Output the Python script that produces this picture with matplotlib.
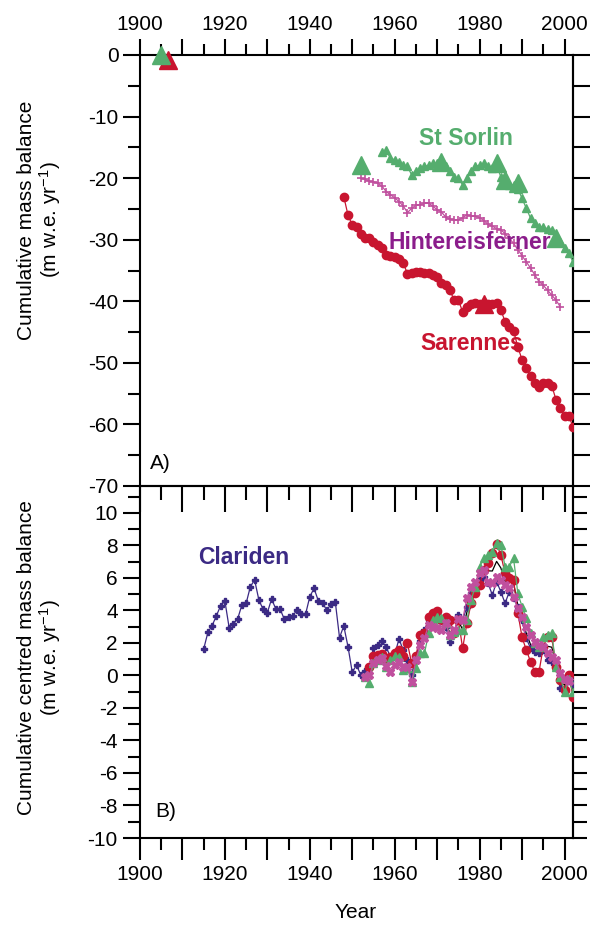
import numpy as np
import matplotlib
matplotlib.use("Agg")
import matplotlib.pyplot as plt
from matplotlib.ticker import MultipleLocator, FuncFormatter

plt.rcParams['font.family'] = ['Liberation Sans', 'DejaVu Sans']
plt.rcParams['mathtext.fontset'] = 'custom'
plt.rcParams['mathtext.rm'] = 'Liberation Sans'
plt.rcParams['mathtext.it'] = 'Liberation Sans:italic'
plt.rcParams['mathtext.bf'] = 'Liberation Sans:bold'
plt.rcParams['axes.unicode_minus'] = False

# ---------------- data: panel A (cumulative mass balance) ----------------
sorlin_years = list(range(1957, 2003))
sorlin_vals = [-15.7, -15.5, -16.8, -17.0, -17.3, -17.9, -18.1, -19.5, -18.9, -18.4,
               -18.1, -17.9, -17.6, -17.6, -17.4, -18.1, -18.9, -19.8, -20.0, -21.1,
               -20.0, -18.9, -18.1, -17.9, -17.6, -18.1, -18.4, -17.9, -19.8, -20.9,
               -21.1, -21.1, -21.7, -23.3, -24.9, -26.5, -27.3, -27.9, -28.0, -28.2,
               -28.4, -29.2, -30.3, -31.4, -32.2, -33.6]
sorlin_geo_years = [1905, 1952, 1971, 1984, 1986, 1989, 1998]
sorlin_geo_vals = [0.0, -17.9, -17.3, -17.6, -20.3, -20.8, -29.7]

hef_years = list(range(1952, 2000))
hef_vals = [-20.0, -20.2, -20.5, -20.6, -20.8, -21.3, -22.2, -22.7, -23.2, -23.8,
            -24.5, -25.6, -24.9, -24.4, -24.3, -24.1, -24.0, -24.6, -25.1, -25.5,
            -26.3, -26.7, -26.8, -26.8, -26.4, -26.0, -26.1, -26.2, -26.4, -26.9,
            -27.5, -27.8, -28.2, -28.4, -29.0, -29.8, -30.6, -31.6, -32.6, -33.6,
            -34.6, -35.7, -36.8, -37.4, -38.2, -39.0, -39.8, -40.9]

sar_years = list(range(1948, 2003))
sar_vals = [-23.0, -26.0, -27.6, -27.9, -29.0, -29.8, -29.8, -30.3, -30.9, -31.4,
            -32.5, -32.7, -32.8, -33.2, -33.8, -35.5, -35.4, -35.3, -35.2, -35.4,
            -35.4, -35.8, -36.1, -37.1, -37.4, -38.2, -39.8, -39.8, -41.7, -40.9,
            -40.4, -40.3, -40.4, -40.6, -40.4, -40.4, -40.3, -41.4, -43.3, -44.1,
            -44.8, -47.4, -49.5, -50.9, -52.2, -53.3, -53.9, -53.3, -53.3, -53.7,
            -56.0, -57.4, -58.7, -58.6, -60.4]
sar_geo_years = [1906.5, 1981]
sar_geo_vals = [-0.8, -40.4]

# ---------------- data: panel B (cumulative centred mass balance) ----------------
clar_years = list(range(1915, 2003))
clar_vals = [1.63, 2.66, 3.07, 3.68, 4.30, 4.58, 2.94, 3.17, 3.48, 4.34,
             4.44, 5.47, 5.88, 4.65, 4.07, 3.87, 4.71, 4.09, 4.09, 3.46,
             3.58, 3.68, 4.03, 3.77, 3.77, 4.85, 5.36, 4.60, 4.44, 4.03,
             4.38, 4.54, 2.33, 3.05, 1.77, 0.19, 0.65, 0.03, 0.30, 0.54,
             1.67, 1.88, 2.14, 1.73, 1.16, 1.26, 2.25, 1.57, 0.95, 0.03,
             1.16, 2.14, 2.80, 3.42, 3.72, 3.52, 3.42, 3.00, 2.08, 2.60,
             3.72, 3.42, 4.20, 5.06, 5.57, 5.88, 6.08, 5.67, 4.95, 5.77,
             5.16, 4.44, 5.16, 4.75, 4.24, 3.42, 2.29, 1.67, 1.47, 1.36,
             1.57, 0.95, 0.85, 0.54, -0.79, -0.24, -0.34, -0.50]

sarB_years = list(range(1954, 2003))
sarB_vals = [0.5, 1.2, 1.26, 1.3, 1.0, 1.16, 1.4, 1.57, 1.2, 1.98,
             0.75, 1.2, 2.49, 2.6, 3.62, 3.83, 3.99, 3.42, 3.62, 3.42,
             2.6, 3.42, 1.67, 3.2, 4.44, 5.06, 5.57, 6.49, 6.9, 7.52,
             8.09, 7.42, 6.29, 5.98, 5.88, 3.87, 2.35, 1.57, 0.85, 0.23,
             0.23, 1.77, 2.39, 2.35, 0.54, -0.28, -0.9, 0.03, -1.3]

sorB_years = list(range(1953, 2003))
sorB_vals = [-0.1, -0.44, 0.75, 0.95, 1.16, 0.54, 0.95, 1.2, 1.16, 0.34,
             0.44, -0.38, 0.44, 1.36, 1.36, 2.6, 3.42, 3.62, 3.52, 3.21,
             2.49, 2.7, 2.8, 2.8, 3.42, 4.65, 5.47, 6.7, 7.21, 7.42,
             7.57, 8.14, 8.03, 6.7, 6.7, 7.21, 5.06, 4.24, 3.52, 2.6,
             1.98, 1.77, 2.39, 2.49, 2.6, 0.54, -0.07, -1.0, -0.24, -1.0]

hefB_years = list(range(1953, 2002))
hefB_vals = [-0.1, 0.0, 0.75, 0.95, 1.06, 0.6, 0.23, 0.65, 0.85, 0.54,
             0.54, -0.38, 0.95, 1.88, 2.29, 3.11, 3.0, 2.9, 2.8, 3.21,
             2.49, 2.8, 3.46, 3.42, 4.75, 5.47, 5.77, 6.29, 6.49, 5.77,
             5.67, 6.08, 5.88, 5.57, 5.36, 4.85, 4.13, 3.62, 3.0, 2.49,
             2.08, 1.88, 1.77, 1.36, 1.16, 0.95, 0.13, -0.24, -0.34]

meanB_years = list(range(1953, 2003))
meanB_vals = [0.03, 0.15, 1.09, 1.26, 1.42, 0.97, 0.88, 1.13, 1.46, 0.91,
              0.98, 0.00, 0.94, 1.97, 2.26, 3.19, 3.49, 3.51, 3.29, 3.26,
              2.62, 2.68, 3.35, 2.83, 3.89, 4.91, 5.47, 6.11, 6.57, 6.44,
              6.43, 7.02, 6.62, 5.75, 5.80, 5.67, 4.33, 3.41, 2.60, 1.90,
              1.44, 1.31, 1.88, 1.80, 1.74, 0.64, -0.25, -0.60, -0.22, -0.93]

# ---------------- styling ----------------
GREEN = '#55ad6e'
RED = '#c8152f'
PURPLE_TXT = '#8b1d8b'
MAGENTA = '#c0509e'
BLUE = '#3b2a84'
FS = 15
LW = 1.5

W, H = 592, 926
fig = plt.figure(figsize=(W / 100, H / 100), dpi=100)

x0, x1 = 140 / W, 573 / W
axA = fig.add_axes([x0, 1 - 486 / H, x1 - x0, (486 - 55) / H])
axB = fig.add_axes([x0, 1 - 838 / H, x1 - x0, (838 - 486) / H])

year_fmt = FuncFormatter(lambda v, p: f"{int(round(v))}" if int(round(v)) % 20 == 0 else "")

for ax in (axA, axB):
    ax.set_xlim(1900, 2002)
    for s in ax.spines.values():
        s.set_linewidth(LW)
    ax.xaxis.set_major_locator(MultipleLocator(10))
    ax.xaxis.set_minor_locator(MultipleLocator(5))
    ax.xaxis.set_major_formatter(year_fmt)
    ax.tick_params(labelsize=FS, width=LW)
    ax.tick_params(which='minor', width=LW)

# ---------------- Panel A ----------------
axA.set_ylim(-70, 0)
axA.yaxis.set_major_locator(MultipleLocator(10))
axA.yaxis.set_minor_locator(MultipleLocator(5))
axA.tick_params(axis='x', which='both', top=True, bottom=False, labeltop=True,
                labelbottom=False, direction='out')
axA.tick_params(axis='x', which='major', length=11.5)
axA.tick_params(axis='x', which='minor', length=8)
axA.tick_params(axis='y', which='both', left=True, right=False, direction='out')
axA.tick_params(axis='y', which='major', length=12)
axA.tick_params(axis='y', which='minor', length=8.5)
axA.spines['bottom'].set_visible(False)
rA = axA.secondary_yaxis('right')
rA.yaxis.set_major_locator(MultipleLocator(5))
rA.tick_params(axis='y', which='major', direction='out', length=12, width=LW, labelright=False)
rA.tick_params(axis='y', which='minor', right=False)
rA.spines['right'].set_linewidth(LW)

axA.plot(sar_years, sar_vals, '-o', color=RED, ms=6, lw=0.9, zorder=3)
axA.plot(hef_years, hef_vals, '-+', color=MAGENTA, ms=6, mew=1.2, lw=0.9, zorder=3)
axA.plot(sorlin_years, sorlin_vals, '-^', color=GREEN, ms=6, lw=0.9, zorder=3)
axA.plot(sar_geo_years, sar_geo_vals, '^', color=RED, ms=13, ls='none', zorder=4, clip_on=False)
axA.plot(sorlin_geo_years, sorlin_geo_vals, '^', color=GREEN, ms=13, ls='none', zorder=5, clip_on=False)

axA.text(1976.7, -13.5, 'St Sorlin', color=GREEN, fontsize=16.5, fontweight='bold', ha='center', va='center')
axA.text(1977.8, -30.5, 'Hintereisferner', color=PURPLE_TXT, fontsize=16.5, fontweight='bold', ha='center', va='center', zorder=6)
axA.text(1978.2, -46.9, 'Sarennes', color=RED, fontsize=16.5, fontweight='bold', ha='center', va='center', zorder=6)
axA.text(1902.4, -66.3, 'A)', fontsize=FS, ha='left', va='center')

# ---------------- Panel B ----------------
axB.set_ylim(-10, 11.66)
axB.yaxis.set_major_locator(MultipleLocator(2))
axB.yaxis.set_minor_locator(MultipleLocator(1))
axB.tick_params(axis='x', which='both', top=False, bottom=True, labeltop=False,
                labelbottom=True, direction='out')
axB.tick_params(axis='x', which='major', length=16)
axB.tick_params(axis='x', which='minor', length=8.5)
axB.tick_params(axis='y', which='both', left=True, right=False, direction='out')
axB.tick_params(axis='y', which='major', length=12.5)
axB.tick_params(axis='y', which='minor', length=8.5)

tB = axB.secondary_xaxis('top')
tB.xaxis.set_major_locator(MultipleLocator(10))
tB.xaxis.set_minor_locator(MultipleLocator(5))
tB.tick_params(axis='x', which='major', direction='in', length=19, width=LW, labeltop=False)
tB.tick_params(axis='x', which='minor', direction='in', length=10, width=LW, labeltop=False)
tB.spines['top'].set_linewidth(LW)

rB = axB.secondary_yaxis('right')
rB.yaxis.set_major_locator(MultipleLocator(1))
rB.tick_params(axis='y', which='major', direction='out', length=10, width=LW, labelright=False)
rB.tick_params(axis='y', which='minor', right=False)
rB.spines['right'].set_linewidth(LW)

axB.plot(meanB_years, meanB_vals, '-', color='black', lw=0.9, zorder=2)
axB.plot(clar_years, clar_vals, '-P', color=BLUE, ms=5, lw=0.9, zorder=3)
axB.plot(sarB_years, sarB_vals, '-o', color=RED, ms=6, lw=0.9, zorder=3)
axB.plot(sorB_years, sorB_vals, '-^', color=GREEN, ms=5.5, lw=0.9, zorder=3)
axB.plot(hefB_years, hefB_vals, '-X', color=MAGENTA, ms=5.5, lw=0.9, zorder=4)

axB.text(1924.5, 7.23, 'Clariden', color=BLUE, fontsize=16.5, fontweight='bold', ha='center', va='center')
axB.text(1903.5, -8.4, 'B)', fontsize=FS, ha='left', va='center')

fig.text(356 / W, 1 - 912 / H, 'Year', fontsize=FS, ha='center', va='center')
fig.text(40 / W, 1 - 220 / H, 'Cumulative mass balance\n(m w.e. yr$^{-1}$)', fontsize=FS,
         rotation=90, ha='center', va='center', multialignment='center', linespacing=1.1)
fig.text(40 / W, 1 - 658 / H, 'Cumulative centred mass balance\n(m w.e. yr$^{-1}$)', fontsize=FS,
         rotation=90, ha='center', va='center', multialignment='center', linespacing=1.1)

fig.savefig('out.png', dpi=100)
